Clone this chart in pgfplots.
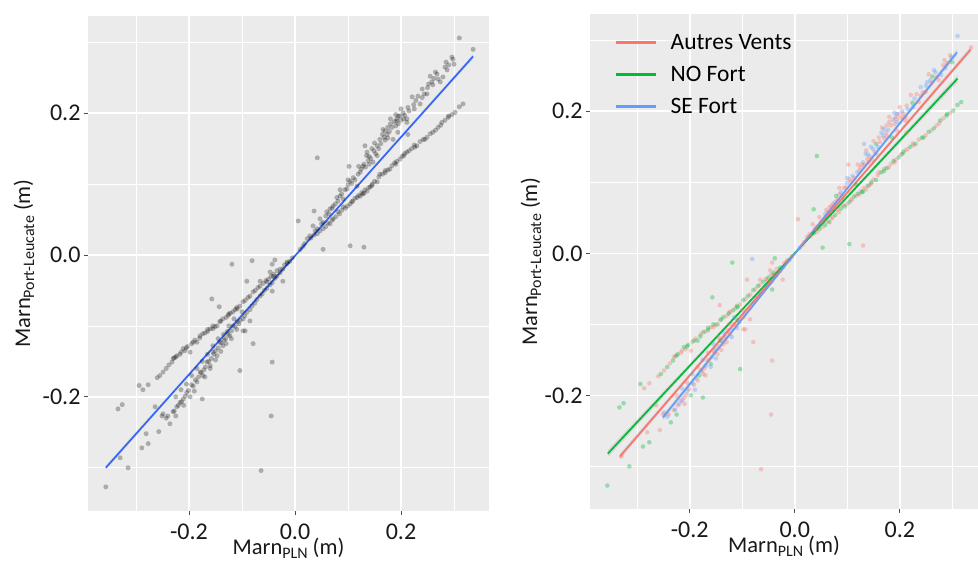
\documentclass[border=0pt]{standalone}
\usepackage{pgfplots}
\pgfplotsset{compat=1.18}
\usepackage{pgfplotstable}
\usepackage{fontspec}
\setmainfont{Carlito}

\definecolor{panelbg}{HTML}{EBEBEB}
\definecolor{fitblue}{HTML}{3366FF}
\definecolor{cAutres}{HTML}{F8766D}
\definecolor{cNO}{HTML}{00BA38}
\definecolor{cSE}{HTML}{619CFF}

% small lowered index used in the axis titles
\newcommand{\idx}[1]{\raisebox{-4pt}{\fontsize{16}{18}\selectfont #1}}

% Surcotes: Marn PLN (x) vs Marn Port-Leucate (y), en m, par régime de vent
\pgfplotstableread{
x y
0.023 0.023
0.028 0.027
0.034 0.041
0.038 0.034
0.042 0.037
0.047 0.051
0.050 0.044
0.053 0.046
0.060 0.061
0.064 0.058
0.066 0.065
0.070 0.066
0.072 0.069
0.081 0.076
0.085 0.083
0.091 0.079
0.094 0.092
0.098 0.093
0.104 0.104
0.107 0.101
0.113 0.106
0.123 0.117
0.125 0.121
0.128 0.125
0.133 0.124
0.136 0.145
0.138 0.133
0.143 0.136
0.147 0.131
0.152 0.143
0.160 0.163
0.162 0.157
0.166 0.177
0.170 0.162
0.174 0.170
0.175 0.180
0.180 0.185
0.183 0.180
0.190 0.182
0.192 0.189
0.192 0.192
0.198 0.196
0.200 0.190
0.207 0.197
0.211 0.192
0.211 0.187
0.213 0.208
0.221 0.223
0.232 0.224
0.236 0.213
0.244 0.227
0.249 0.227
0.255 0.252
0.270 0.248
0.274 0.244
0.283 0.265
0.290 0.268
0.296 0.279
0.336 0.290
0.120 0.125
0.150 0.158
0.180 0.192
0.200 0.206
0.085 0.092
0.140 0.128
0.175 0.165
0.205 0.192
0.240 0.222
0.260 0.240
0.285 0.272
0.030 0.024
0.042 0.030
0.053 0.037
0.062 0.045
0.070 0.049
0.072 0.051
0.081 0.061
0.084 0.058
0.091 0.068
0.099 0.069
0.107 0.075
0.109 0.076
0.117 0.081
0.123 0.083
0.126 0.088
0.132 0.092
0.136 0.090
0.142 0.096
0.150 0.104
0.158 0.110
0.160 0.114
0.170 0.119
0.179 0.121
0.183 0.126
0.192 0.132
0.202 0.139
0.211 0.145
0.215 0.147
0.226 0.152
0.236 0.160
0.249 0.166
0.260 0.173
0.270 0.180
0.283 0.190
0.296 0.198
0.145 0.098
0.190 0.128
0.225 0.155
0.275 0.183
0.006 0.048
0.130 0.011
0.102 0.125
0.213 0.170
0.194 0.173
0.015 0.012
0.018 0.016
-0.005 -0.004
-0.015 -0.012
-0.020 -0.014
-0.034 -0.022
-0.045 -0.030
-0.055 -0.036
-0.066 -0.044
-0.075 -0.050
-0.085 -0.058
-0.094 -0.064
-0.104 -0.072
-0.113 -0.077
-0.122 -0.082
-0.130 -0.088
-0.142 -0.094
-0.151 -0.101
-0.160 -0.104
-0.170 -0.110
-0.179 -0.114
-0.189 -0.120
-0.198 -0.137
-0.208 -0.135
-0.217 -0.140
-0.228 -0.145
-0.230 -0.146
-0.238 -0.155
-0.249 -0.165
-0.260 -0.173
-0.277 -0.183
-0.287 -0.190
-0.125 -0.083
-0.155 -0.104
-0.195 -0.125
-0.215 -0.137
-0.028 -0.025
-0.034 -0.030
-0.043 -0.039
-0.047 -0.042
-0.058 -0.050
-0.062 -0.055
-0.072 -0.063
-0.076 -0.068
-0.085 -0.077
-0.091 -0.081
-0.098 -0.090
-0.103 -0.092
-0.113 -0.101
-0.117 -0.100
-0.123 -0.114
-0.126 -0.112
-0.128 -0.108
-0.134 -0.120
-0.136 -0.128
-0.145 -0.131
-0.147 -0.142
-0.153 -0.140
-0.155 -0.137
-0.163 -0.150
-0.166 -0.151
-0.172 -0.162
-0.174 -0.170
-0.179 -0.165
-0.185 -0.179
-0.192 -0.185
-0.201 -0.191
-0.207 -0.199
-0.211 -0.203
-0.217 -0.208
-0.223 -0.214
-0.230 -0.221
-0.240 -0.227
-0.251 -0.227
-0.264 -0.214
-0.100 -0.080
-0.125 -0.100
-0.145 -0.118
-0.165 -0.140
-0.185 -0.160
-0.205 -0.182
-0.225 -0.200
-0.130 -0.125
-0.170 -0.172
-0.210 -0.212
-0.140 -0.136
-0.143 -0.073
-0.094 -0.107
-0.079 -0.125
-0.043 -0.151
-0.045 -0.227
-0.064 -0.304
-0.330 -0.286
-0.281 -0.252
-0.257 -0.249
-0.043 -0.013
-0.015 -0.010
-0.023 -0.037
-0.047 -0.024
-0.041 -0.030
-0.066 -0.037
-0.053 -0.038
-0.091 -0.037
-0.085 -0.093
-0.098 -0.107
}\tabAutres

\pgfplotstableread{
x y
0.036 0.028
0.047 0.034
0.058 0.040
0.066 0.044
0.077 0.054
0.088 0.063
0.095 0.066
0.104 0.072
0.113 0.080
0.120 0.084
0.128 0.086
0.139 0.095
0.146 0.100
0.155 0.103
0.165 0.114
0.175 0.120
0.188 0.130
0.198 0.135
0.207 0.143
0.220 0.150
0.230 0.154
0.242 0.163
0.255 0.171
0.265 0.176
0.277 0.187
0.289 0.194
0.302 0.201
0.310 0.209
0.317 0.213
0.130 0.087
0.170 0.116
0.205 0.140
0.245 0.163
0.290 0.196
0.042 0.137
0.036 0.062
0.053 0.008
0.104 0.013
0.079 0.081
0.117 0.097
0.155 0.154
0.185 0.163
0.224 0.212
0.262 0.249
0.300 0.269
-0.028 -0.020
-0.040 -0.027
-0.050 -0.034
-0.060 -0.040
-0.070 -0.046
-0.079 -0.052
-0.089 -0.060
-0.098 -0.066
-0.109 -0.076
-0.117 -0.080
-0.126 -0.085
-0.136 -0.090
-0.147 -0.100
-0.155 -0.100
-0.165 -0.108
-0.174 -0.111
-0.185 -0.123
-0.192 -0.123
-0.203 -0.129
-0.211 -0.132
-0.223 -0.142
-0.232 -0.151
-0.243 -0.160
-0.255 -0.170
-0.294 -0.184
-0.326 -0.211
-0.334 -0.217
-0.110 -0.074
-0.140 -0.093
-0.165 -0.105
-0.180 -0.117
-0.205 -0.131
-0.225 -0.144
-0.119 -0.013
-0.157 -0.062
-0.104 -0.163
-0.175 -0.203
-0.357 -0.327
-0.315 -0.300
-0.289 -0.272
-0.277 -0.266
-0.043 -0.051
-0.038 -0.007
-0.109 -0.094
-0.142 -0.123
-0.160 -0.156
-0.182 -0.172
-0.198 -0.200
-0.225 -0.227
-0.236 -0.238
}\tabNO

\pgfplotstableread{
x y
0.310 0.306
0.298 0.276
0.287 0.261
0.279 0.251
0.268 0.255
0.258 0.244
0.252 0.241
0.240 0.234
0.228 0.218
0.215 0.203
0.204 0.200
0.195 0.196
0.187 0.188
0.178 0.174
0.168 0.166
0.158 0.150
0.149 0.147
0.140 0.139
0.130 0.128
0.119 0.114
0.110 0.109
0.100 0.099
0.088 0.086
0.076 0.072
0.058 0.055
0.132 0.154
0.135 0.140
0.165 0.170
0.190 0.198
0.145 0.150
0.170 0.175
0.100 0.106
0.155 0.140
0.195 0.185
0.225 0.206
0.250 0.236
0.265 0.258
0.010 0.008
-0.010 -0.009
-0.081 -0.008
-0.023 -0.020
-0.038 -0.033
-0.053 -0.047
-0.066 -0.058
-0.081 -0.072
-0.095 -0.086
-0.106 -0.097
-0.120 -0.107
-0.131 -0.118
-0.139 -0.124
-0.150 -0.135
-0.158 -0.146
-0.169 -0.158
-0.177 -0.166
-0.188 -0.176
-0.195 -0.183
-0.204 -0.194
-0.214 -0.207
-0.220 -0.212
-0.228 -0.220
-0.243 -0.230
-0.249 -0.224
-0.115 -0.090
-0.135 -0.112
-0.155 -0.128
-0.175 -0.150
-0.195 -0.170
-0.215 -0.190
-0.110 -0.105
-0.150 -0.148
-0.190 -0.192
-0.120 -0.118
-0.160 -0.160
}\tabSE

\pgfplotsset{
  ggpanel/.style={
    scale only axis, height=495pt,
    axis background/.style={fill=panelbg},
    axis line style={draw=none},
    xtick={-0.2,0,0.2}, xticklabels={-0.2,0.0,0.2},
    ytick={-0.2,0,0.2}, yticklabels={-0.2,0.0,0.2},
    minor xtick={-0.3,-0.1,0.1,0.3}, minor ytick={-0.3,-0.1,0.1,0.3},
    grid=both,
    major grid style={white, line width=1.6pt},
    minor grid style={white, line width=0.8pt},
    tick align=outside, xtick pos=left, ytick pos=left,
    major tick length=4pt, minor tick length=0pt,
    tick style={draw=black!70, line width=0.8pt},
    ticklabel style={font=\fontsize{24}{28}\selectfont, text=black!90},
    xticklabel style={yshift=-5pt},
    label style={font=\fontsize{22.5}{26}\selectfont, text=black!90},
    xlabel={Marn\idx{PLN} (m)},
    ylabel={Marn\idx{Port-Leucate} (m)},
    xlabel style={at={(axis description cs:0.5,-0.088)}, anchor=base},
  },
  pts/.style={only marks, mark=*, mark size=2.5pt, forget plot},
}

\begin{document}
\begin{tikzpicture}
\useasboundingbox (0,0) rectangle (978pt,562pt);

% Panel 1: all points, one overall linear fit
\begin{axis}[ggpanel, width=401pt, at={(88pt,51pt)}, anchor=south west,
  xmin=-0.3906, xmax=0.366, ymin=-0.361, ymax=0.337,
  ylabel style={at={(axis description cs:-0.1446,0.5)}, anchor=base}]
  \addplot[pts, mark options={fill=black, draw opacity=0, fill opacity=0.27}] table {\tabAutres};
  \addplot[pts, mark options={fill=black, draw opacity=0, fill opacity=0.27}] table {\tabNO};
  \addplot[pts, mark options={fill=black, draw opacity=0, fill opacity=0.27}] table {\tabSE};
  \addplot[fill=gray, fill opacity=0.2, draw=none, forget plot]
    coordinates {(-0.357,-0.297) (0.000,0.001) (0.336,0.283) (0.336,0.277) (0.000,-0.001) (-0.357,-0.303)} -- cycle;
  \addplot[fitblue, line width=1.7pt] coordinates {(-0.357,-0.300) (0.336,0.280)};
\end{axis}

% Panel 2: points and linear fits by wind regime
\begin{axis}[ggpanel, width=388pt, at={(590pt,53pt)}, anchor=south west,
  xmin=-0.390, xmax=0.349, ymin=-0.360, ymax=0.337,
  ylabel style={at={(axis description cs:-0.1366,0.5)}, anchor=base},
  legend style={at={(0.062,0.962)}, anchor=north west, draw=none, fill=none,
    font=\fontsize{23.5}{28}\selectfont, row sep=13.5pt, column sep=12pt, inner sep=0pt,
    nodes={inner sep=1pt}},
  legend cell align=left,
  legend image code/.code={\draw[#1, line width=3.4pt] (0pt,0pt) -- (40pt,0pt);}]
  \addplot[pts, mark size=2.3pt, mark options={fill=cAutres, draw opacity=0, fill opacity=0.35}] table {\tabAutres};
  \addplot[pts, mark size=2.3pt, mark options={fill=cNO, draw opacity=0, fill opacity=0.35}] table {\tabNO};
  \addplot[pts, mark size=2.3pt, mark options={fill=cSE, draw opacity=0, fill opacity=0.35}] table {\tabSE};
  \addplot[fill=gray, fill opacity=0.2, draw=none, forget plot]
    coordinates {(-0.333,-0.282) (0.000,0.001) (0.335,0.291) (0.335,0.283) (0.000,-0.001) (-0.333,-0.290)} -- cycle;
  \addplot[fill=gray, fill opacity=0.2, draw=none, forget plot]
    coordinates {(-0.356,-0.277) (0.000,0.001) (0.310,0.251) (0.310,0.241) (0.000,-0.001) (-0.356,-0.287)} -- cycle;
  \addplot[fill=gray, fill opacity=0.2, draw=none, forget plot]
    coordinates {(-0.251,-0.227) (0.000,0.001) (0.309,0.287) (0.309,0.279) (0.000,-0.001) (-0.251,-0.235)} -- cycle;
  \addplot[cAutres, line width=1.7pt] coordinates {(-0.333,-0.286) (0.335,0.287)};
  \addlegendentry{Autres Vents}
  \addplot[cNO, line width=1.7pt] coordinates {(-0.356,-0.282) (0.310,0.246)};
  \addlegendentry{NO Fort}
  \addplot[cSE, line width=1.7pt] coordinates {(-0.251,-0.231) (0.309,0.283)};
  \addlegendentry{SE Fort}
\end{axis}
\end{tikzpicture}
\end{document}
